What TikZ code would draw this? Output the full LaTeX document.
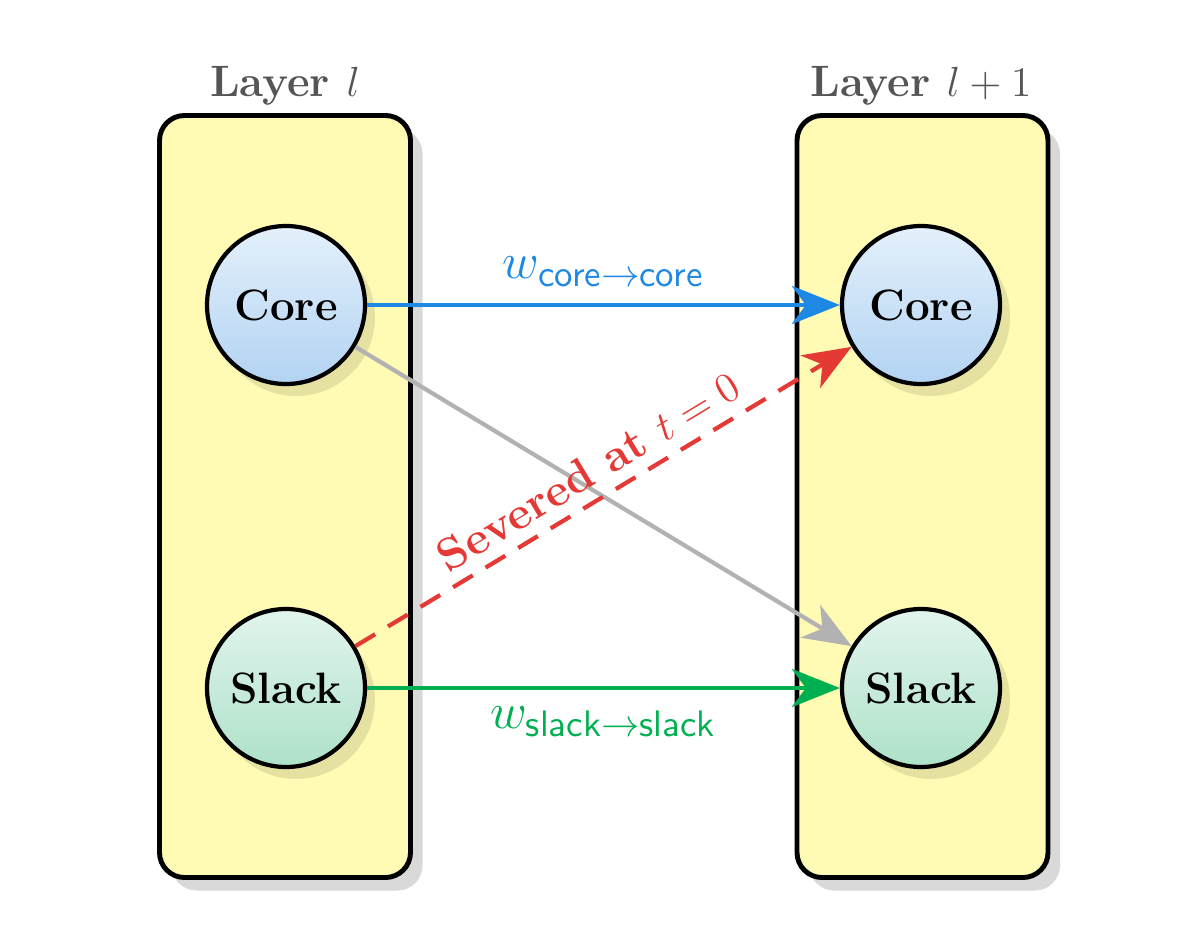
\documentclass[tikz,border=0pt]{standalone}
\usetikzlibrary{arrows.meta,shadows}
\definecolor{layerfill}{RGB}{255,251,180}
\definecolor{corefillA}{RGB}{228,240,251}
\definecolor{corefillB}{RGB}{178,211,242}
\definecolor{slackfillA}{RGB}{226,245,237}
\definecolor{slackfillB}{RGB}{174,225,201}
\definecolor{coreblue}{RGB}{30,136,229}
\definecolor{slackgreen}{RGB}{0,176,80}
\definecolor{cutred}{RGB}{229,57,53}
\definecolor{crossgray}{RGB}{178,178,178}
\definecolor{titlegray}{RGB}{85,85,85}
\newcommand{\wsub}[1]{\mbox{\fontsize{10.5}{12}\selectfont\sffamily #1}}
\begin{document}
\begin{tikzpicture}[
  layer/.style={draw=black, line width=1.4pt, rounded corners=2.5mm,
                fill=layerfill, minimum width=2.51cm, minimum height=7.62cm,
                inner sep=0pt,
                drop shadow={shadow xshift=1.2mm, shadow yshift=-1.3mm,
                             fill=black, opacity=0.15}},
  unit/.style={circle, draw=black, line width=1.2pt, minimum size=1.58cm,
               inner sep=0pt, font=\fontsize{12.5}{14}\selectfont\bfseries,
               drop shadow={shadow xshift=1mm, shadow yshift=-1.2mm,
                            fill=black, opacity=0.1}},
  core/.style={unit, top color=corefillA, bottom color=corefillB},
  slack/.style={unit, top color=slackfillA, bottom color=slackfillB},
  ttl/.style={font=\fontsize{12.5}{14}\selectfont\bfseries, text=titlegray},
  wire/.style={-{Stealth[length=4.8mm, width=3.8mm, inset=1.4mm]},
               line width=1.2pt},
  cut/.style={wire, cutred, dash pattern=on 2.3mm off 1.5mm},
  wlbl/.style={font=\fontsize{13.5}{15}\selectfont},
  cutlbl/.style={font=\fontsize{13}{15}\selectfont\bfseries, text=cutred},
]
\useasboundingbox (0,0) rectangle (12,-9.35);
% Layer columns
\node[layer] (layerA) at (2.85,-4.965) {};
\node[layer] (layerB) at (9.225,-4.965) {};
\node[ttl] (ttlA) at (2.85,-0.86) {Layer $l$};
\node[ttl] (ttlB) at (9.21,-0.86) {Layer $l+1$};
% Units
\node[core]  (coreA)  at (2.86,-3.05) {Core};
\node[slack] (slackA) at (2.86,-6.88) {Slack};
\node[core]  (coreB)  at (9.21,-3.05) {Core};
\node[slack] (slackB) at (9.21,-6.88) {Slack};
% Connections
\draw[wire, crossgray] (coreA) -- (slackB);
\draw[cut] (slackA) -- (coreB)
  node[cutlbl, midway, sloped, above] {Severed at $t=0$};
\draw[wire, coreblue] (coreA) -- (coreB)
  node[wlbl, midway, yshift=3.3mm, text=coreblue]
  {$w_{\wsub{core$\rightarrow$core}}$};
\draw[wire, slackgreen] (slackA) -- (slackB)
  node[wlbl, midway, yshift=-3.4mm, text=slackgreen]
  {$w_{\wsub{slack$\rightarrow$slack}}$};
\end{tikzpicture}
\end{document}
